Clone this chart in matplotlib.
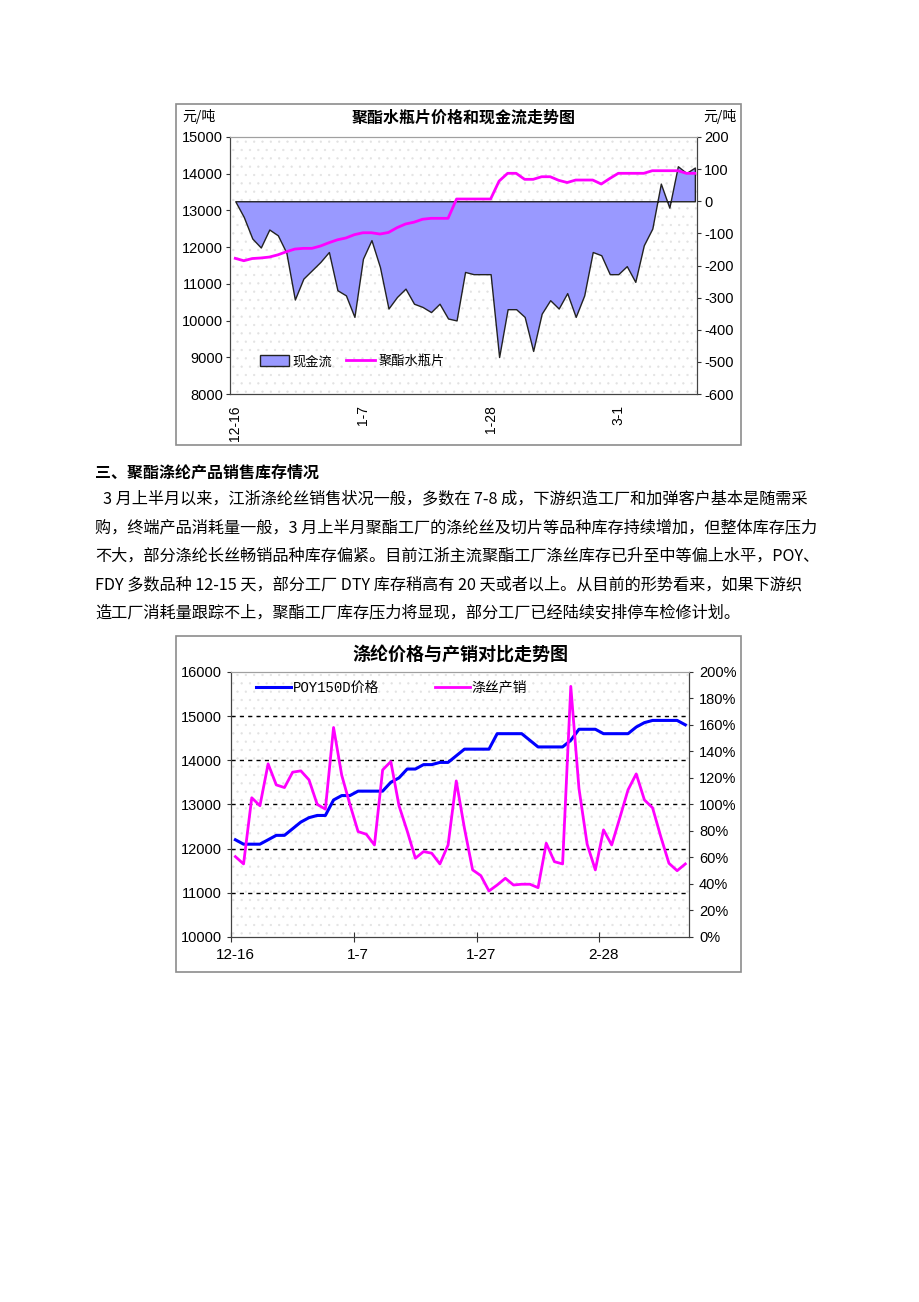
import matplotlib
matplotlib.use("Agg")
import matplotlib.pyplot as plt
from matplotlib.patches import Rectangle, Patch
from matplotlib.lines import Line2D

plt.rcParams['font.family'] = ['Liberation Sans', 'Noto Sans CJK SC', 'DejaVu Sans']
plt.rcParams['hatch.linewidth'] = 0.4
plt.rcParams['axes.unicode_minus'] = False
CJK = ['Noto Sans CJK SC', 'DejaVu Sans']

# ---- chart 1: 聚酯水瓶片价格和现金流 ----
cash_flow = [0, -49, -116, -144, -88, -106, -160, -306, -241, -215,
             -189, -158, -277, -293, -360, -179, -121, -205, -334, -298,
             -272, -319, -329, -345, -319, -365, -371, -220, -227, -227,
             -227, -485, -336, -336, -360, -466, -350, -308, -334, -286,
             -360, -293, -158, -168, -227, -227, -202, -251, -137, -85,
             55, -20, 109, 88, 105]
bottle_price = [11695, 11630, 11690, 11705, 11730, 11790, 11875, 11948, 11967, 11967,
                12030, 12120, 12200, 12250, 12340, 12392, 12392, 12357, 12400, 12530,
                12630, 12680, 12760, 12785, 12785, 12785, 13311, 13311, 13311, 13311,
                13311, 13800, 14011, 14011, 13847, 13847, 13918, 13918, 13820, 13760,
                13828, 13828, 13828, 13719, 13870, 14011, 14011, 14011, 14011, 14082,
                14082, 14082, 14082, 14011, 14011]
c1_tick_pos = [0, 15, 30, 45]
c1_tick_labels = ['12-16', '1-7', '1-28', '3-1']

# ---- chart 2: 涤纶价格与产销对比 ----
poy_price = [12200, 12100, 12100, 12100, 12200, 12300, 12300, 12450, 12600, 12700,
             12750, 12750, 13100, 13200, 13200, 13300, 13300, 13300, 13300, 13500,
             13600, 13800, 13800, 13900, 13900, 13950, 13950, 14100, 14250, 14250,
             14250, 14250, 14600, 14600, 14600, 14600, 14450, 14300, 14300, 14300,
             14300, 14450, 14700, 14700, 14700, 14600, 14600, 14600, 14600, 14750,
             14850, 14900, 14900, 14900, 14900, 14800]
sales_ratio = [60.6, 55.1, 105, 99, 130.6, 114.7, 112.7, 124.3, 125.3, 118.5,
               100, 96.4, 158, 122, 100, 79.5, 77.5, 69.4, 126, 132.3,
               99, 80, 59.4, 64.4, 63.2, 55.1, 69.4, 117.7, 82, 50.6,
               46.3, 34.7, 39.2, 44.3, 39.2, 39.8, 39.8, 37.2, 70.7, 56.8,
               55.1, 189, 112, 70, 50.6, 80.8, 69.4, 90, 111, 123,
               103.4, 97.4, 75.7, 55.6, 50, 55.1]
c2_tick_pos = [0, 15, 30, 45]
c2_tick_labels = ['12-16', '1-7', '1-27', '2-28']

W, H = 920, 1302
fig = plt.figure(figsize=(W / 100, H / 100), dpi=100)


def fig_box(x0, y0, x1, y1):
    return [x0 / W, 1 - y1 / H, (x1 - x0) / W, (y1 - y0) / H]


def frame(x0, y0, x1, y1):
    l, b, w, h = fig_box(x0, y0, x1, y1)
    fig.patches.append(Rectangle((l, b), w, h, transform=fig.transFigure,
                                 fill=False, edgecolor='#8c8c8c', lw=1.2))


def dotted_bg(ax):
    ax.add_patch(Rectangle((0, 0), 1, 1, transform=ax.transAxes, facecolor='white',
                           edgecolor='#e2e2e2', hatch='..', lw=0, zorder=0))


# ================= chart 1 =================
frame(176, 104, 741, 445)
x1 = list(range(len(cash_flow)))
axL = fig.add_axes(fig_box(230, 137, 697, 394))
axR = axL.twinx()
axL.set_zorder(axR.get_zorder() + 1)
axL.patch.set_visible(False)
dotted_bg(axR)

axR.fill_between(x1, cash_flow, 0, facecolor='#9999ff', edgecolor='#222222', lw=1.0, zorder=2)
axL.plot(x1, bottle_price, color='#ff00ff', lw=2.0)

axL.set_xlim(-0.62, 54.25)
axL.set_ylim(8000, 15000)
axR.set_ylim(-600, 200)
axL.set_yticks(range(8000, 15001, 1000))
axR.set_yticks(range(-600, 201, 100))
axL.set_xticks(c1_tick_pos)
axL.set_xticklabels(c1_tick_labels, rotation=90, fontsize=10)
axL.tick_params(axis='x', length=0, pad=8)
axL.tick_params(axis='y', labelsize=10.5, length=3, pad=2, color='#333333')
axR.tick_params(axis='y', labelsize=10.5, length=3, pad=2, color='#333333')
for a in (axL, axR):
    for s in a.spines.values():
        s.set_color('#444444')
    a.spines['top'].set_color('#a0a0a0')

axL.set_title('聚酯水瓶片价格和现金流走势图', fontsize=11.5, fontweight='bold',
              family=CJK, pad=10)
fig.text(199 / W, 1 - 117 / H, '元/吨', fontsize=10, ha='center', va='center', family=CJK)
fig.text(720 / W, 1 - 117 / H, '元/吨', fontsize=10, ha='center', va='center', family=CJK)

h1 = [Patch(facecolor='#9999ff', edgecolor='#222222', lw=1.0),
      Line2D([], [], color='#ff00ff', lw=2.0)]
axL.legend(h1, ['现金流', '聚酯水瓶片'], loc='center', bbox_to_anchor=(0.262, 0.125),
           ncol=2, frameon=False, prop={'family': CJK, 'size': 9.5},
           handlelength=2.2, handleheight=0.9, handletextpad=0.3, columnspacing=1.0)

# ================= document text =================
fig.text(95 / W, 1 - 473 / H, '三、聚酯涤纶产品销售库存情况', fontsize=11.5,
         fontweight='bold', va='center', family=CJK)
body = [
    (103, 499, '3 月上半月以来，江浙涤纶丝销售状况一般，多数在 7-8 成，下游织造工厂和加弹客户基本是随需采'),
    (95, 528, '购，终端产品消耗量一般，3 月上半月聚酯工厂的涤纶丝及切片等品种库存持续增加，但整体库存压力'),
    (95, 556, '不大，部分涤纶长丝畅销品种库存偏紧。目前江浙主流聚酯工厂涤丝库存已升至中等偏上水平，POY、'),
    (95, 585, 'FDY 多数品种 12-15 天，部分工厂 DTY 库存稍高有 20 天或者以上。从目前的形势看来，如果下游织'),
    (95, 613, '造工厂消耗量跟踪不上，聚酯工厂库存压力将显现，部分工厂已经陆续安排停车检修计划。'),
]
for x, y, t in body:
    fig.text(x / W, 1 - y / H, t, fontsize=11.65, va='center', family=CJK)

# ================= chart 2 =================
frame(176, 636, 741, 972)
x2 = list(range(len(poy_price)))
ax2 = fig.add_axes(fig_box(231.3, 671.8, 689.4, 937))
ax2r = ax2.twinx()
dotted_bg(ax2)

ax2.plot(x2, poy_price, color='#0000ff', lw=2.2, zorder=3)
ax2r.plot(x2, sales_ratio, color='#ff00ff', lw=2.0)

ax2.set_xlim(-0.5, 55.5)
ax2.set_ylim(10000, 16000)
ax2r.set_ylim(0, 200)
ax2.set_yticks(range(10000, 16001, 1000))
ax2r.set_yticks(range(0, 201, 20))
ax2r.set_yticklabels([f'{v}%' for v in range(0, 201, 20)])
for v in range(11000, 16000, 1000):
    ax2.axhline(v, color='black', lw=1.0, ls=(0, (3, 3)), zorder=1)
ax2.set_xticks([p - 0.5 for p in c2_tick_pos])
ax2.set_xticklabels([])
ax2.set_xticks(c2_tick_pos, minor=True)
ax2.set_xticklabels(c2_tick_labels, minor=True, fontsize=11)
ax2.tick_params(axis='x', which='major', direction='inout', length=7, color='#333333')
ax2.tick_params(axis='x', which='minor', length=0, pad=8)
ax2.tick_params(axis='y', labelsize=10.5, length=3, pad=4, color='#333333')
ax2r.tick_params(axis='y', labelsize=10.5, length=3, pad=4, color='#333333')
for a in (ax2, ax2r):
    for s in a.spines.values():
        s.set_color('#444444')
    a.spines['top'].set_color('#a0a0a0')

ax2.set_title('涤纶价格与产销对比走势图', fontsize=13, fontweight='bold', family=CJK, pad=8)
h2 = [Line2D([], [], color='#0000ff', lw=2.2), Line2D([], [], color='#ff00ff', lw=2.0)]
ax2.legend(h2, ['POY150D价格', '涤丝产销'], loc='center', bbox_to_anchor=(0.35, 0.94),
           ncol=2, frameon=False, prop={'family': ['Liberation Mono', 'Noto Sans CJK SC'], 'size': 10},
           handlelength=2.5, handletextpad=0.15, columnspacing=4.0)

fig.savefig('out.png', dpi=100, facecolor='white')
